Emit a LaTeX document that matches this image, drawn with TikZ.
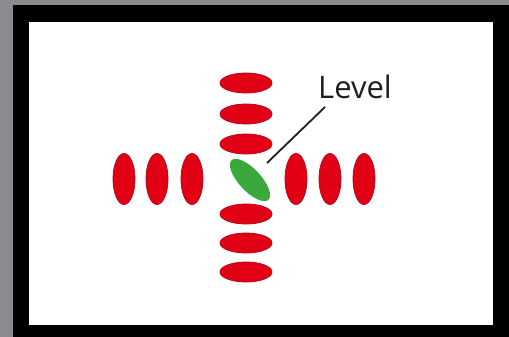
\documentclass[tikz,border=0pt]{standalone}
\usepackage{fontspec}
\setmainfont{Open Sans}
\usetikzlibrary{shapes.geometric,positioning}
\definecolor{frameGray}{RGB}{138,139,143}
\definecolor{discRed}{RGB}{226,0,20}
\definecolor{discEdge}{RGB}{180,10,30}
\definecolor{discGreen}{RGB}{58,168,58}
\definecolor{labelInk}{RGB}{30,30,30}

\begin{document}
\begin{tikzpicture}[x=1pt,y=-1pt,
    flat/.style={ellipse,draw=discEdge,fill=discRed,line width=0.8pt,inner sep=0pt,
        minimum width=52pt,minimum height=20pt},
    tall/.style={ellipse,draw=discEdge,fill=discRed,line width=0.8pt,inner sep=0pt,
        minimum width=22pt,minimum height=51pt}]
    % Frame
    \fill[frameGray] (0,0) rectangle (509,337);
    \fill[black] (13,5) rectangle (509,337);
    \fill[white] (29,22) rectangle (493,325);

    % Column of flat discs
    \foreach \y/\n in {83/c1,114/c2,144/c3,214/c4,243/c5,272/c6}
        \node[flat] (\n) at (246,\y) {};

    % Row of standing discs
    \foreach \x/\n in {124/r1,157/r2,192/r3,296/r4,330/r5,364/r6}
        \node[tall] (\n) at (\x,179) {};

    % Tilted disc and its label
    \node[ellipse,fill=discGreen,inner sep=0pt,minimum width=54pt,minimum height=22pt,
        rotate=-47] (lev) at (250,180) {};
    \node[anchor=base west,inner sep=0pt,text=labelInk,font=\fontsize{31}{36}\selectfont]
        (lbl) at (318,99) {Level};
    \coordinate (tip) at (267,163);
    \draw[labelInk,line width=1.8pt] (tip) -- ([shift={(7,8)}]lbl.base west);
\end{tikzpicture}
\end{document}
